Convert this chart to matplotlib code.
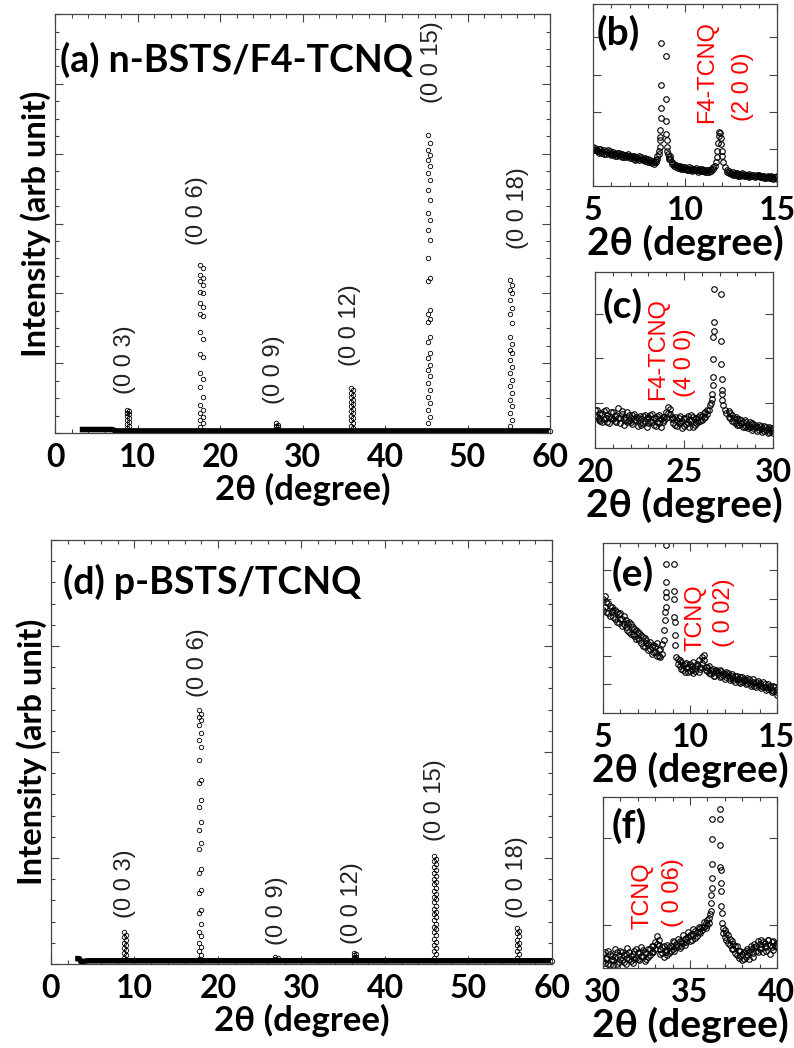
import matplotlib.pyplot as plt
from matplotlib.ticker import MultipleLocator

plt.rcParams['font.family'] = ['Lato', 'DejaVu Sans']

# ---- main panel (a): n-BSTS/F4-TCNQ ----
a_base_x = [3.0, 4.0, 7.0, 7.3, 60.0]
a_base_y = [0.05, 0.05, 0.05, 0.03, 0.03]
a_peaks = [8.85, 17.75, 26.9, 36.0, 45.3, 55.3]
hkl = ['(0 0 3)', '(0 0 6)', '(0 0 9)', '(0 0 12)', '(0 0 15)', '(0 0 18)']
a_int = [
    [0.33, 0.31, 0.29, 0.27, 0.25, 0.22, 0.19, 0.16, 0.13, 0.10, 0.07],
    [2.41, 2.36, 2.26, 2.22, 2.17, 2.12, 2.02, 2.00, 1.86, 1.81, 1.71, 1.67, 1.45, 1.34,
     1.13, 1.09, 0.86, 0.78, 0.66, 0.52, 0.40, 0.33, 0.28, 0.23, 0.19, 0.14, 0.09],
    [0.14, 0.12, 0.10, 0.08, 0.06],
    [0.65, 0.62, 0.58, 0.55, 0.52, 0.48, 0.45, 0.42, 0.38, 0.35, 0.32, 0.28, 0.25, 0.22,
     0.18, 0.14, 0.10, 0.07],
    [4.27, 4.15, 4.05, 3.98, 3.91, 3.82, 3.72, 3.62, 3.48, 3.34, 3.15, 3.05, 2.91, 2.76,
     2.50, 2.22, 2.17, 1.76, 1.71, 1.64, 1.59, 1.38, 1.31, 1.14, 1.07, 0.97, 0.90, 0.81,
     0.71, 0.62, 0.52, 0.43, 0.33, 0.23, 0.14],
    [2.19, 2.12, 2.05, 2.00, 1.91, 1.79, 1.71, 1.57, 1.38, 1.28, 1.19, 1.14, 1.05, 0.95,
     0.86, 0.76, 0.67, 0.57, 0.48, 0.38, 0.28, 0.19, 0.10],
]
a_lab_x = [8.5, 17.2, 26.5, 35.8, 45.7, 56.1]
a_lab_y = [1.05, 3.18, 0.90, 1.55, 5.31, 3.22]

# ---- main panel (d): p-BSTS/TCNQ ----
d_base_x = [2.9, 3.4, 3.6, 4.4, 60.0]
d_base_y = [0.05, 0.05, 0.02, 0.03, 0.03]
d_peaks = [8.86, 17.84, 27.0, 36.4, 46.0, 55.9]
d_int = [
    [0.30, 0.27, 0.25, 0.23, 0.20, 0.18, 0.15, 0.13, 0.10, 0.08, 0.06],
    [2.40, 2.36, 2.33, 2.30, 2.25, 2.18, 2.11, 2.05, 1.92, 1.74, 1.71, 1.55, 1.48, 1.34,
     1.26, 1.14, 1.08, 0.90, 0.86, 0.70, 0.67, 0.51, 0.48, 0.38, 0.30, 0.26, 0.20, 0.16,
     0.12, 0.08, 0.05],
    [0.07, 0.06, 0.05, 0.04],
    [0.10, 0.09, 0.08, 0.07, 0.06, 0.05],
    [1.02, 0.99, 0.97, 0.94, 0.91, 0.89, 0.86, 0.83, 0.80, 0.77, 0.75, 0.72, 0.69, 0.66,
     0.63, 0.61, 0.58, 0.55, 0.52, 0.49, 0.47, 0.44, 0.41, 0.38, 0.35, 0.33, 0.30, 0.27,
     0.24, 0.21, 0.18, 0.15, 0.12, 0.09, 0.06],
    [0.34, 0.31, 0.29, 0.26, 0.23, 0.20, 0.18, 0.15, 0.12, 0.09, 0.06],
]
d_lab_x = [8.86, 17.6, 27.07, 36.0, 46.0, 55.8]
d_lab_y = [0.76, 2.84, 0.50, 0.57, 1.55, 0.82]

# ---- inset (b): 5-15 deg, n-BSTS/F4-TCNQ ----
b_x = [5.0, 5.1, 5.2, 5.3, 5.4, 5.5, 5.6, 5.7, 5.8, 5.9,
       6.0, 6.1, 6.2, 6.3, 6.4, 6.5, 6.6, 6.7, 6.8, 6.9,
       7.0, 7.1, 7.2, 7.3, 7.4, 7.5, 7.6, 7.7, 7.8, 7.9,
       8.0, 8.1, 8.2, 8.3, 8.4, 8.5,
       9.2, 9.3, 9.4, 9.5, 9.6, 9.7, 9.8, 9.9,
       10.0, 10.1, 10.2, 10.3, 10.4, 10.5, 10.6, 10.7, 10.8, 10.9,
       11.0, 11.1, 11.2, 11.3, 11.4, 11.5,
       12.3, 12.4, 12.5, 12.6, 12.7, 12.8, 12.9,
       13.0, 13.1, 13.2, 13.3, 13.4, 13.5, 13.6, 13.7, 13.8, 13.9,
       14.0, 14.1, 14.2, 14.3, 14.4, 14.5, 14.6, 14.7, 14.8, 14.9, 15.0]
b_y = [1.05, 0.97, 0.93, 1.00, 0.91, 0.95, 0.87, 0.93, 0.96, 0.86,
       0.90, 0.85, 0.82, 0.89, 0.83, 0.80, 0.86, 0.78, 0.84, 0.80,
       0.76, 0.82, 0.74, 0.79, 0.72, 0.80, 0.73, 0.70, 0.75, 0.67,
       0.72, 0.64, 0.68, 0.60, 0.70, 0.80,
       0.72, 0.60, 0.58, 0.50, 0.55, 0.49, 0.45, 0.52,
       0.47, 0.43, 0.50, 0.44, 0.41, 0.47, 0.42, 0.39, 0.45, 0.40,
       0.43, 0.37, 0.42, 0.39, 0.45, 0.50,
       0.42, 0.36, 0.33, 0.37, 0.31, 0.34, 0.28,
       0.32, 0.35, 0.28, 0.30, 0.26, 0.32, 0.27, 0.29, 0.24, 0.30,
       0.26, 0.23, 0.28, 0.22, 0.25, 0.27, 0.21, 0.24, 0.19, 0.23, 0.26]
b_y2 = [0.96, 1.02, 0.98, 0.90, 0.99, 0.88, 0.96, 0.85, 0.90, 0.94,
        0.84, 0.92, 0.87, 0.81, 0.90, 0.85, 0.79, 0.84, 0.77, 0.86,
        0.82, 0.75, 0.80, 0.71, 0.77, 0.70, 0.78, 0.74, 0.68, 0.73,
        0.66, 0.70, 0.63, 0.66, 0.64, 0.74,
        0.80, 0.66, 0.54, 0.56, 0.48, 0.53, 0.50, 0.46,
        0.50, 0.47, 0.44, 0.49, 0.46, 0.42, 0.48, 0.44, 0.40, 0.46,
        0.40, 0.44, 0.38, 0.43, 0.41, 0.46,
        0.38, 0.40, 0.36, 0.31, 0.35, 0.30, 0.33,
        0.28, 0.31, 0.33, 0.27, 0.30, 0.25, 0.28, 0.31, 0.26, 0.27,
        0.29, 0.26, 0.24, 0.27, 0.21, 0.25, 0.22, 0.26, 0.21, 0.24, 0.20]
b_pk_x = [8.56, 8.60, 8.62, 8.64, 8.65, 8.66, 8.67, 8.68, 8.69, 8.70,
          8.95, 8.96, 8.97, 8.98, 9.00, 9.02, 9.04, 9.07, 9.11, 9.15,
          11.62, 11.68, 11.72, 11.76, 11.79, 11.82, 11.85,
          11.90, 11.93, 11.96, 11.99, 12.03, 12.08, 12.15]
b_pk_y = [0.85, 0.95, 1.05, 1.23, 1.32, 1.50, 1.82, 2.09, 2.72, 3.85,
          3.49, 2.33, 1.76, 1.41, 1.23, 1.05, 0.95, 0.87, 0.78, 0.72,
          0.55, 0.65, 0.78, 0.95, 1.15, 1.35, 1.46,
          1.42, 1.30, 1.12, 0.95, 0.80, 0.65, 0.52]

# ---- inset (c): 20-30 deg ----
c_x = [20.0, 20.1, 20.2, 20.3, 20.4, 20.5, 20.6, 20.7, 20.8, 20.9,
       21.0, 21.1, 21.2, 21.3, 21.4, 21.5, 21.6, 21.7, 21.8, 21.9,
       22.0, 22.1, 22.2, 22.3, 22.4, 22.5, 22.6, 22.7, 22.8, 22.9,
       23.0, 23.1, 23.2, 23.3, 23.4, 23.5, 23.6, 23.7, 23.8, 23.9,
       24.0, 24.1, 24.2, 24.3, 24.4, 24.5, 24.6, 24.7, 24.8, 24.9,
       25.0, 25.1, 25.2, 25.3, 25.4, 25.5, 25.6, 25.7, 25.8, 25.9,
       26.0, 26.1, 26.2, 26.3,
       27.5, 27.6, 27.7, 27.8, 27.9, 28.0, 28.1, 28.2, 28.3, 28.4,
       28.5, 28.6, 28.7, 28.8, 28.9, 29.0, 29.1, 29.2, 29.3, 29.4,
       29.5, 29.6, 29.7, 29.8, 29.9, 30.0]
c_y = [0.86, 0.70, 0.62, 0.78, 0.57, 0.82, 0.68, 0.74, 0.55, 0.80,
       0.64, 0.72, 0.58, 0.90, 0.66, 0.75, 0.52, 0.70, 0.80, 0.60,
       0.68, 0.54, 0.77, 0.62, 0.50, 0.72, 0.65, 0.56, 0.74, 0.48,
       0.69, 0.60, 0.76, 0.52, 0.66, 0.58, 0.73, 0.47, 0.70, 0.62,
       0.80, 0.92, 0.76, 0.64, 0.55, 0.70, 0.49, 0.66, 0.58, 0.44,
       0.68, 0.54, 0.72, 0.46, 0.62, 0.70, 0.52, 0.66, 0.58, 0.74,
       0.62, 0.78, 0.70, 0.84,
       0.82, 0.66, 0.74, 0.58, 0.70, 0.52, 0.64, 0.56, 0.47, 0.62,
       0.50, 0.44, 0.58, 0.40, 0.54, 0.46, 0.37, 0.52, 0.42, 0.35,
       0.50, 0.40, 0.33, 0.46, 0.38, 0.44]
c_y2 = [0.72, 0.84, 0.66, 0.60, 0.75, 0.64, 0.86, 0.58, 0.70, 0.66,
        0.80, 0.60, 0.74, 0.68, 0.56, 0.82, 0.68, 0.62, 0.57, 0.74,
        0.58, 0.73, 0.62, 0.70, 0.66, 0.55, 0.52, 0.72, 0.60, 0.68,
        0.55, 0.74, 0.58, 0.68, 0.50, 0.72, 0.56, 0.64, 0.58, 0.70,
        0.66, 0.78, 0.88, 0.70, 0.66, 0.52, 0.62, 0.56, 0.72, 0.60,
        0.50, 0.66, 0.56, 0.63, 0.74, 0.48, 0.64, 0.55, 0.70, 0.60,
        0.72, 0.66, 0.80, 0.76,
        0.70, 0.78, 0.60, 0.68, 0.56, 0.64, 0.52, 0.62, 0.58, 0.48,
        0.58, 0.52, 0.46, 0.55, 0.44, 0.52, 0.48, 0.40, 0.50, 0.44,
        0.38, 0.48, 0.42, 0.36, 0.44, 0.34]
c_pk_x = [26.40, 26.45, 26.50, 26.55, 26.58, 26.60, 26.62, 26.64, 26.65, 26.66, 26.67, 26.68,
          27.06, 27.08, 27.10, 27.11, 27.12, 27.14, 27.16, 27.20, 27.28, 27.36]
c_pk_y = [0.85, 0.95, 1.00, 1.10, 1.21, 1.40, 1.58, 1.99, 2.47, 2.62, 2.81, 3.56,
          3.45, 2.38, 1.88, 1.55, 1.30, 1.21, 1.07, 0.95, 0.85, 0.78]

# ---- inset (e): 5-15 deg, p-BSTS/TCNQ ----
e_x = [5.0, 5.1, 5.2, 5.3, 5.4, 5.5, 5.6, 5.7, 5.8, 5.9,
       6.0, 6.1, 6.2, 6.3, 6.4, 6.5, 6.6, 6.7, 6.8, 6.9,
       7.0, 7.1, 7.2, 7.3, 7.4, 7.5, 7.6, 7.7, 7.8, 7.9,
       8.0, 8.1, 8.2, 8.3, 8.4,
       9.3, 9.4, 9.5, 9.6, 9.7, 9.8, 9.9,
       10.0, 10.1, 10.2, 10.3, 10.4, 10.5, 10.6, 10.7, 10.8, 10.9,
       11.0, 11.1, 11.2, 11.3, 11.4, 11.5, 11.6, 11.7, 11.8, 11.9,
       12.0, 12.1, 12.2, 12.3, 12.4, 12.5, 12.6, 12.7, 12.8, 12.9,
       13.0, 13.1, 13.2, 13.3, 13.4, 13.5, 13.6, 13.7, 13.8, 13.9,
       14.0, 14.1, 14.2, 14.3, 14.4, 14.5, 14.6, 14.7, 14.8, 14.9, 15.0]
e_y = [4.00, 3.70, 3.90, 3.50, 3.75, 3.55, 3.35, 3.62, 3.20, 3.45,
       3.28, 3.05, 3.40, 3.00, 3.15, 2.85, 3.10, 2.78, 2.95, 2.60,
       2.85, 2.55, 2.72, 2.35, 2.62, 2.45, 2.20, 2.50, 2.05, 2.38,
       2.15, 2.45, 1.98, 2.25, 2.05,
       1.90, 1.65, 1.80, 1.50, 1.72, 1.58, 1.45,
       1.70, 1.52, 1.78, 1.48, 1.65, 1.85, 1.55, 1.95, 2.03, 1.62,
       1.48, 1.66, 1.38, 1.55, 1.30, 1.50, 1.42, 1.25, 1.46, 1.32,
       1.20, 1.42, 1.28, 1.15, 1.36, 1.22, 1.10, 1.30, 1.18, 1.05,
       1.26, 1.12, 1.00, 1.22, 1.08, 0.96, 1.18, 1.04, 0.92, 1.12,
       0.98, 0.86, 1.08, 0.92, 0.80, 1.02, 0.88, 0.72, 0.95, 0.80, 0.62]
e_y2 = [3.60, 4.10, 3.55, 3.85, 3.40, 3.70, 3.60, 3.30, 3.55, 3.15,
        3.50, 3.30, 3.10, 3.25, 2.90, 3.20, 2.75, 3.00, 2.70, 2.90,
        2.62, 2.80, 2.45, 2.65, 2.30, 2.55, 2.40, 2.25, 2.30, 2.15,
        2.35, 2.00, 2.20, 1.95, 2.40,
        1.70, 1.85, 1.55, 1.68, 1.45, 1.75, 1.60,
        1.48, 1.66, 1.40, 1.58, 1.70, 1.45, 1.60, 1.75, 1.85, 1.50,
        1.62, 1.40, 1.52, 1.45, 1.28, 1.48, 1.35, 1.50, 1.30, 1.40,
        1.35, 1.25, 1.40, 1.22, 1.30, 1.15, 1.28, 1.20, 1.08, 1.25,
        1.10, 1.20, 1.15, 1.05, 1.18, 1.00, 1.10, 0.95, 1.08, 0.98,
        1.05, 0.95, 0.90, 1.00, 0.92, 0.85, 0.95, 0.82, 0.78, 0.90, 0.72]
e_pk_x = [8.48, 8.52, 8.56, 8.58, 8.60, 8.61, 8.62, 8.63, 8.64, 8.65,
          9.06, 9.08, 9.10, 9.11, 9.12, 9.14, 9.16, 9.20]
e_pk_y = [2.55, 2.90, 3.24, 3.55, 3.70, 4.05, 4.23, 4.58, 5.22, 5.87,
          5.22, 4.28, 4.00, 3.36, 3.18, 2.72, 2.37, 1.96]

# ---- inset (f): 30-40 deg ----
f_x = [30.0, 30.1, 30.2, 30.3, 30.4, 30.5, 30.6, 30.7, 30.8, 30.9,
       31.0, 31.1, 31.2, 31.3, 31.4, 31.5, 31.6, 31.7, 31.8, 31.9,
       32.0, 32.1, 32.2, 32.3, 32.4, 32.5, 32.6, 32.7, 32.8, 32.9,
       33.0, 33.1, 33.2, 33.3, 33.4, 33.5, 33.6, 33.7, 33.8, 33.9,
       34.0, 34.1, 34.2, 34.3, 34.4, 34.5, 34.6, 34.7, 34.8, 34.9,
       35.0, 35.1, 35.2, 35.3, 35.4, 35.5, 35.6, 35.7, 35.8, 35.9,
       36.0, 36.1,
       36.9, 37.0, 37.1, 37.2, 37.3, 37.4, 37.5, 37.6, 37.7, 37.8, 37.9,
       38.0, 38.1, 38.2, 38.3, 38.4, 38.5, 38.6, 38.7, 38.8, 38.9,
       39.0, 39.1, 39.2, 39.3, 39.4, 39.5, 39.6, 39.7, 39.8, 39.9, 40.0]
f_y = [0.16, 0.06, 0.12, 0.20, 0.04, 0.14, 0.09, 0.22, 0.05, 0.15,
       0.11, 0.19, 0.07, 0.16, 0.23, 0.10, 0.14, 0.06, 0.20, 0.12,
       0.17, 0.09, 0.24, 0.13, 0.19, 0.10, 0.22, 0.15, 0.26, 0.19,
       0.30, 0.37, 0.27, 0.16, 0.24, 0.13, 0.21, 0.27, 0.17, 0.25,
       0.31, 0.20, 0.28, 0.34, 0.23, 0.30, 0.38, 0.27, 0.35, 0.42,
       0.31, 0.39, 0.45, 0.35, 0.42, 0.48, 0.40, 0.47, 0.53, 0.46,
       0.56, 0.52,
       0.46, 0.36, 0.41, 0.29, 0.34, 0.22, 0.28, 0.17, 0.25, 0.12, 0.20,
       0.09, 0.18, 0.13, 0.22, 0.10, 0.25, 0.17, 0.28, 0.20, 0.31,
       0.22, 0.33, 0.18, 0.29, 0.24, 0.32, 0.16, 0.30, 0.21, 0.27, 0.24]
f_y2 = [0.08, 0.18, 0.10, 0.05, 0.16, 0.11, 0.03, 0.13, 0.18, 0.07,
        0.20, 0.09, 0.15, 0.05, 0.12, 0.18, 0.08, 0.16, 0.10, 0.22,
        0.11, 0.19, 0.14, 0.21, 0.08, 0.17, 0.13, 0.22, 0.18, 0.26,
        0.22, 0.28, 0.33, 0.22, 0.17, 0.26, 0.18, 0.15, 0.24, 0.20,
        0.22, 0.30, 0.24, 0.26, 0.31, 0.25, 0.29, 0.34, 0.30, 0.36,
        0.38, 0.33, 0.38, 0.43, 0.37, 0.42, 0.46, 0.44, 0.48, 0.52,
        0.50, 0.58,
        0.40, 0.44, 0.33, 0.38, 0.27, 0.31, 0.22, 0.26, 0.15, 0.20, 0.14,
        0.16, 0.11, 0.20, 0.15, 0.18, 0.22, 0.13, 0.24, 0.26, 0.19,
        0.28, 0.24, 0.30, 0.25, 0.20, 0.33, 0.27, 0.24, 0.31, 0.26, 0.29]
f_pk_x = [36.18, 36.20, 36.22, 36.23, 36.24, 36.25, 36.26, 36.27, 36.28,
          36.72, 36.73, 36.74, 36.75, 36.76, 36.77, 36.78, 36.80, 36.82, 36.85]
f_pk_y = [0.62, 0.66, 0.75, 0.85, 0.93, 1.04, 1.20, 1.49, 1.72,
          1.84, 1.72, 1.43, 1.17, 1.13, 0.98, 0.89, 0.72, 0.64, 0.52]

BOLD = 'bold'
fig = plt.figure(figsize=(7.94, 10.48), dpi=100)


def frame(ax, xlim, ylim, xt, xminor, ymajor, yminor, fs):
    ax.set_xlim(*xlim)
    ax.set_ylim(*ylim)
    ax.set_xticks(xt)
    ax.set_xticklabels([str(t) for t in xt], fontweight=BOLD, fontsize=fs)
    ax.xaxis.set_minor_locator(MultipleLocator(xminor))
    ax.set_yticks(ymajor)
    ax.yaxis.set_minor_locator(MultipleLocator(yminor))
    ax.tick_params(which='both', direction='in', top=True, right=True,
                   labelleft=False, color='#444444', width=0.8)
    ax.tick_params(which='major', length=6)
    ax.tick_params(which='minor', length=3)
    ax.tick_params(axis='x', pad=7)
    for s in ax.spines.values():
        s.set_color('#444444')
        s.set_linewidth(0.9)


def main_panel(rect, base_x, base_y, peaks, ints, lab_x, lab_y, ylim, yminor, title, title_xy):
    ax = fig.add_axes(rect)
    ax.plot(base_x, base_y, color='black', lw=4, solid_capstyle='butt')
    for p, vals in zip(peaks, ints):
        xs = [p - 0.13 if i % 2 == 0 else p + 0.13 for i in range(len(vals))]
        ax.plot(xs, vals, 'o', ms=3.2, mfc='none', mec='black', mew=0.6)
    ax.plot([60], [0.03], 'o', ms=3.2, mfc='white', mec='black', mew=0.6, clip_on=False)
    for lx, ly, t in zip(lab_x, lab_y, hkl):
        ax.text(lx, ly, t, rotation=90, ha='center', va='center', fontsize=17,
                family=['Liberation Sans'], color='#222222')
    ax.text(title_xy[0], title_xy[1], title, fontsize=27, fontweight=BOLD,
            ha='left', va='center')
    frame(ax, (0, 60), ylim, [0, 10, 20, 30, 40, 50, 60], 2,
          list(range(int(ylim[1]) + 1)), yminor, 23)
    ax.set_xlabel('2θ (degree)', fontsize=25, fontweight=BOLD, labelpad=1)
    ax.set_ylabel('Intensity (arb unit)', fontsize=23.5, fontweight=BOLD, labelpad=3)
    return ax


main_panel([0.0693, 0.5868, 0.6234, 0.3998], a_base_x, a_base_y, a_peaks, a_int,
           a_lab_x, a_lab_y, (0, 6), 0.25, '(a) n-BSTS/F4-TCNQ', (0.6, 5.34))
main_panel([0.0642, 0.0802, 0.6310, 0.4046], d_base_x, d_base_y, d_peaks, d_int,
           d_lab_x, d_lab_y, (0, 4), 0.2, '(d) p-BSTS/TCNQ', (1.4, 3.6))


def inset(rect, x, y, y2, pk_x, pk_y, xlim, ylim, xt, ymajor, letter, letter_xy, red):
    ax = fig.add_axes(rect)
    ax.plot(x, y, 'o', ms=4, mfc='none', mec='black', mew=0.8)
    ax.plot(x, y2, 'o', ms=4, mfc='none', mec='black', mew=0.8)
    ax.plot(pk_x, pk_y, 'o', ms=4, mfc='none', mec='black', mew=0.8)
    frame(ax, xlim, ylim, xt, 1, ymajor, 0.5, 23)
    ax.yaxis.set_minor_locator(plt.NullLocator())
    ax.set_xlabel('2θ (degree)', fontsize=28, fontweight=BOLD, labelpad=0)
    ax.text(letter_xy[0], letter_xy[1], letter, fontsize=28, fontweight=BOLD,
            ha='left', va='center')
    for tx, ty, t in red:
        ax.text(tx, ty, t, rotation=90, ha='center', va='center', fontsize=17,
                color='red', family=['Liberation Sans'])
    return ax


inset([0.7469, 0.8225, 0.2317, 0.1737], b_x, b_y, b_y2, b_pk_x, b_pk_y, (5, 15), (0, 4.9),
      [5, 10, 15], [1, 2, 3, 4], '(b)', (5.2, 4.13),
      [(11.2, 3.08, 'F4-TCNQ'), (13.15, 2.68, '(2 0 0)')])
inset([0.7494, 0.5725, 0.2242, 0.1679], c_x, c_y, c_y2, c_pk_x, c_pk_y, (20, 30), (0, 3.93),
      [20, 25, 30], [1, 2, 3], '(c)', (20.45, 3.18),
      [(23.54, 2.22, 'F4-TCNQ'), (25.06, 1.91, '(4 0 0)')])
inset([0.7594, 0.3197, 0.2191, 0.1622], e_x, e_y, e_y2, e_pk_x, e_pk_y, (5, 15), (0, 5.95),
      [5, 10, 15], [1, 2, 3, 4, 5], '(e)', (5.52, 4.88),
      [(10.34, 3.34, 'TCNQ'), (11.95, 3.52, '( 0 02)')])
inset([0.7594, 0.0763, 0.2191, 0.1632], f_x, f_y, f_y2, f_pk_x, f_pk_y, (30, 40), (0, 1.98),
      [30, 35, 40], [0.5, 1.5], '(f)', (30.52, 1.64),
      [(32.3, 0.84, 'TCNQ'), (34.02, 0.87, '( 0 06)')])

fig.savefig('out.png', dpi=100)
